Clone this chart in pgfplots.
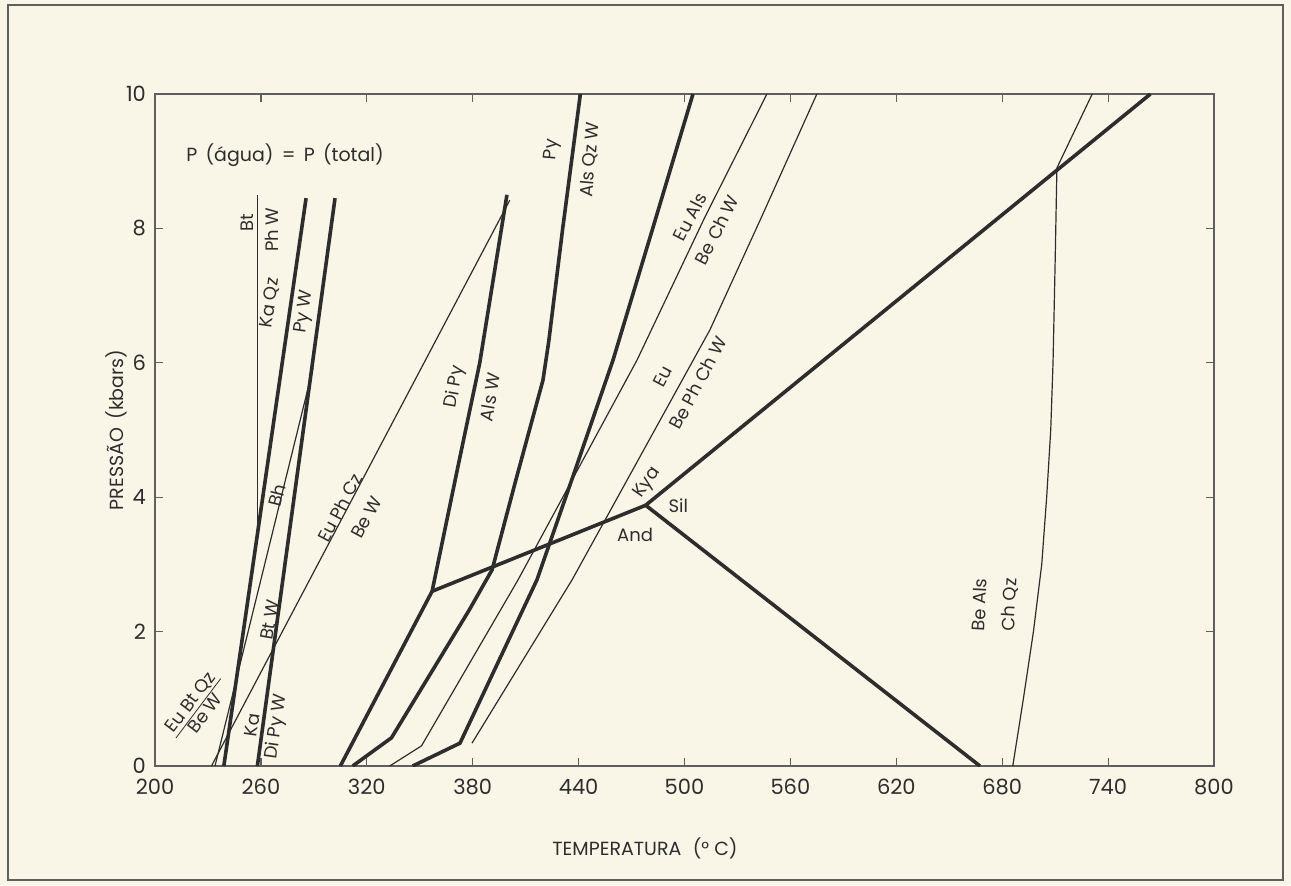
\documentclass[border=0pt]{standalone}
\usepackage{pgfplots}
\pgfplotsset{compat=1.18}
\usepackage{fontspec}
\setmainfont{Poppins}
\definecolor{paper}{RGB}{250,246,231}
\definecolor{ink}{RGB}{45,45,45}
\definecolor{axisgray}{RGB}{95,95,95}
\tikzset{
  thick line/.style={line width=1.8pt, line join=miter},
  thin line/.style={line width=0.6pt},
  lab/.style={font=\fontsize{9}{10}\selectfont, text=ink, inner sep=0.5pt},
}
\begin{document}
\begin{tikzpicture}[x=1pt,y=1pt]
\useasboundingbox (0,0) rectangle (645.5,442.5);
\fill[paper] (0,0) rectangle (645.5,442.5);
\draw[axisgray, line width=0.6pt] (4,2.5) rectangle (641.5,440);
\begin{axis}[
  at={(77.5pt,59.5pt)}, anchor=south west,
  scale only axis, width=529.5pt, height=336pt,
  xmin=200, xmax=800, ymin=0, ymax=10,
  xtick={200,260,...,800}, ytick={0,2,...,10},
  tick align=inside, major tick length=4pt,
  axis line style={draw=axisgray, line width=0.7pt},
  every tick/.style={draw=axisgray, line width=0.6pt},
  /pgf/number format/assume math mode=true,
  ticklabel style={font=\fontsize{10.5}{11}\selectfont, text=ink},
  xticklabel style={yshift=-3pt},
  yticklabel style={xshift=-1pt},
  every axis plot/.append style={ink},
]
% Ka Qz = Py W
\addplot[thick line] coordinates {(239,0) (285.6,8.45)};
% Ka = Di Py W
\addplot[thick line] coordinates {(258,0) (302,8.45)};
% Bt = Ph W (vertical)
\addplot[thin line] coordinates {(258,3.3) (258,8.5)};
% Bh = Bt W
\addplot[thin line] coordinates {(234,0) (289.5,5.92)};
% Eu Ph Cz = Be W
\addplot[thin line] coordinates {(232,0) (401,8.42)};
% Di Py = Als W
\addplot[thick line] coordinates {(305,0) (357,2.6) (372,4.5) (384,6.0) (399.4,8.5)};
% Al2SiO5
\addplot[thick line] coordinates {(357,2.6) (478,3.88)};
\addplot[thick line] coordinates {(478,3.88) (667.4,0)};
\addplot[thick line] coordinates {(478,3.88) (764,10)};
% Py = Als Qz W
\addplot[thick line] coordinates {(312,0) (334,0.42) (378,2.32) (391,2.92) (404.5,4.26) (419.8,5.74) (423,6.3) (431,8) (441,10)};
% third thick line
\addplot[thick line] coordinates {(346,0) (372.8,0.34) (416.4,2.77) (438,4.4) (459.5,6.04) (482,8) (504.8,10)};
% Eu Als = Be Ch W
\addplot[thin line] coordinates {(333,0) (351,0.3) (405.7,2.77) (473.1,6.04) (511.6,8.17) (546.7,10)};
% Eu = Be Ph Ch W
\addplot[thin line] coordinates {(379.6,0.34) (436.3,2.77) (514.4,6.49) (542.8,8.12) (575,10)};
% Be Als = Ch Qz
\addplot[thin line] coordinates {(686,0) (692,1) (697.7,2) (702.4,3) (705.2,4) (707.5,5) (708.8,6) (710,7.5) (711,8.9) (731,10)};

% labels
\node[lab, font=\fontsize{9.5}{10}\selectfont] at (axis cs:273.7,9.09) {P\, (água) \,=\, P\, (total)};
\node[lab, rotate=90] at (axis cs:252,8.08) {Bt};
\node[lab, rotate=90] at (axis cs:266,7.98) {Ph W};
\node[lab, rotate=82] at (axis cs:265.2,6.89) {Ka Qz};
\node[lab, rotate=82] at (axis cs:285,6.76) {Py W};
\node[lab, rotate=76] at (axis cs:269,4.03) {Bh};
\node[lab, rotate=62] at (axis cs:304.8,3.84) {Eu Ph Cz};
\node[lab, rotate=62] at (axis cs:320,3.7) {Be W};
\node[lab, rotate=80] at (axis cs:265.2,2.17) {Bt W};
\node[lab, rotate=82] at (axis cs:255,0.61) {Ka};
\node[lab, rotate=82] at (axis cs:269,0.58) {Di Py W};
\node[lab, rotate=53] at (axis cs:225,0.85) {\setlength{\tabcolsep}{1pt}\begin{tabular}{c}Eu Bt Qz\\[-1pt]\hline Be W\end{tabular}};
\node[lab, rotate=80] at (axis cs:370,5.64) {Di Py};
\node[lab, rotate=80] at (axis cs:389.8,5.49) {Als W};
\node[lab, rotate=85] at (axis cs:425,9.17) {Py};
\node[lab, rotate=85] at (axis cs:446.5,9.02) {Als Qz W};
\node[lab, rotate=63] at (axis cs:503,8.17) {Eu Als};
\node[lab, rotate=63] at (axis cs:518.4,7.98) {Be Ch W};
\node[lab, rotate=62] at (axis cs:487.8,5.79) {Eu};
\node[lab, rotate=62] at (axis cs:507.6,5.7) {Be Ph Ch W};
\node[lab, rotate=55] at (axis cs:479,4.21) {Kya};
\node[lab] at (axis cs:496.5,3.88) {Sil};
\node[lab] at (axis cs:472,3.44) {And};
\node[lab, rotate=87] at (axis cs:667,2.4) {Be Als};
\node[lab, rotate=87] at (axis cs:684.4,2.4) {Ch Qz};
\end{axis}
\node[font=\fontsize{9.5}{10}\selectfont, text=ink, rotate=90] at (58,227.5) {PRESSÃO\, (kbars)};
\node[font=\fontsize{9.5}{10}\selectfont, text=ink] at (322.5,18.5) {TEMPERATURA\,\, (° C)};
\end{tikzpicture}
\end{document}
